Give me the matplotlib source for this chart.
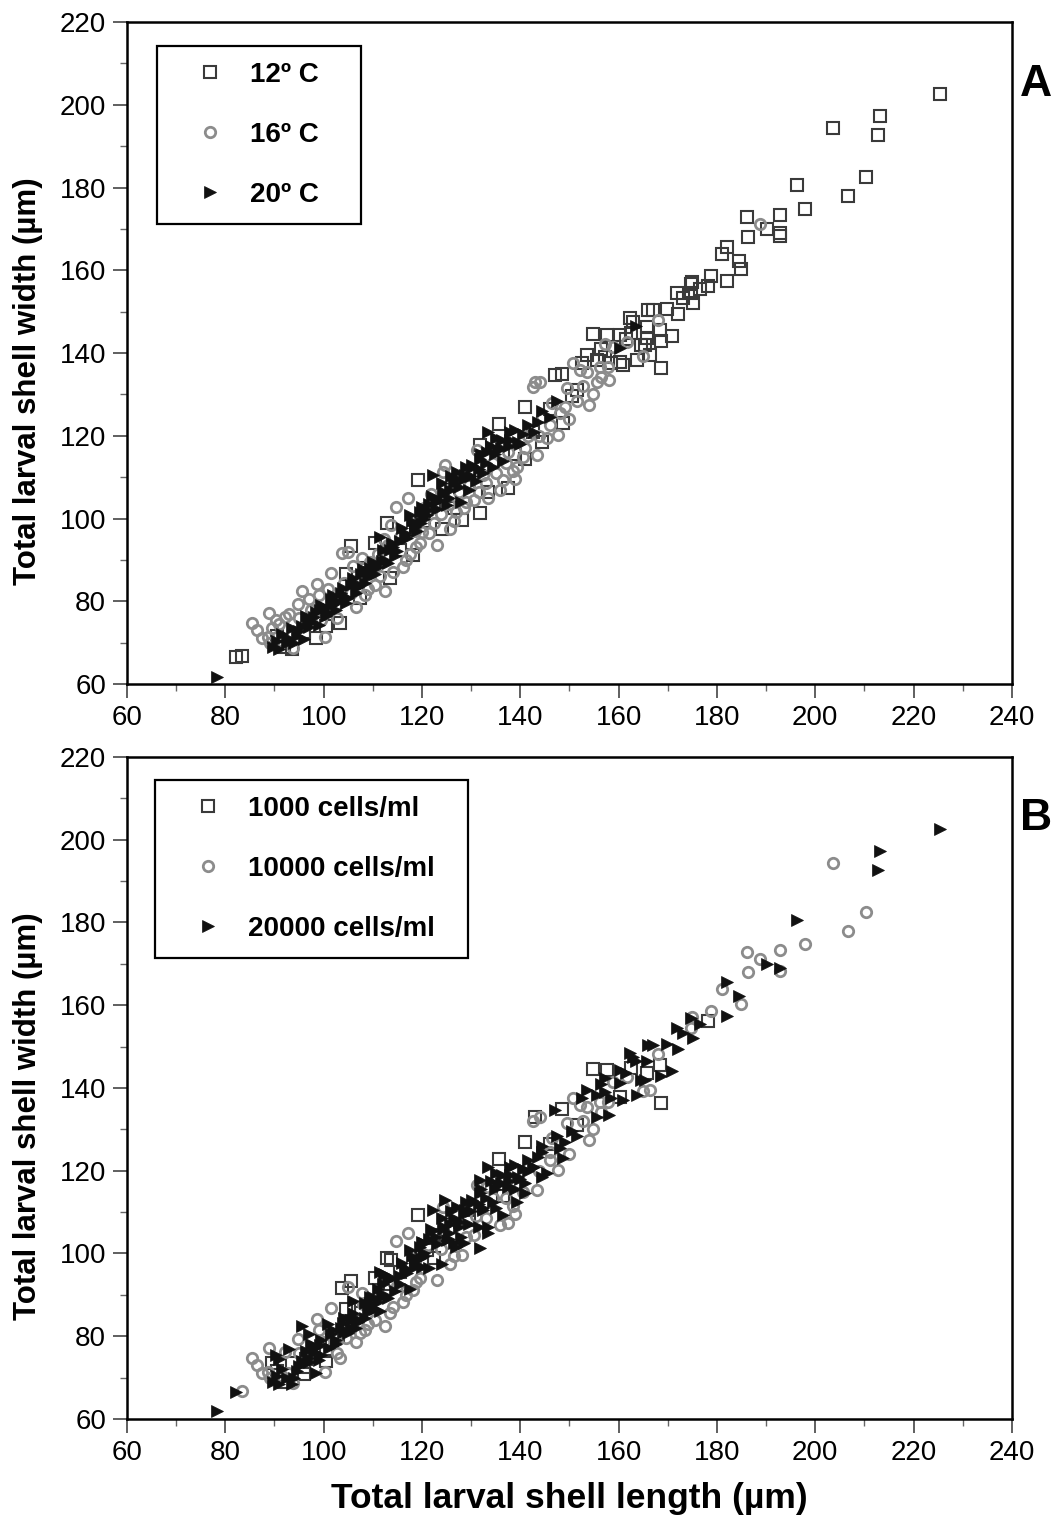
import matplotlib
matplotlib.use("Agg")
import matplotlib.pyplot as plt
from matplotlib.lines import Line2D
from matplotlib.ticker import MultipleLocator

plt.rcParams["font.family"] = ["Liberation Sans", "DejaVu Sans"]

# ---- data: shell length / width per temperature; food code 1/2/3 = 1000/10000/20000 cells/ml
L_12 = [82.1, 83.3, 90.5, 92.0, 93.5, 96.0, 98.5, 100.5, 103.3, 104.5, 105.5, 107.4, 108.5, 110.4,
        112.8, 113.5, 115.5, 118.2, 119.2, 120.5, 122.5, 124.0, 126.5, 128.1, 129.5, 131.8, 131.8,
        133.5, 135.7, 137.5, 139.0, 140.9, 140.9, 142.5, 144.5, 146.0, 147.0, 148.4, 148.7, 150.5,
        151.5, 152.5, 153.5, 154.7, 155.5, 156.5, 157.2, 157.6, 158.5, 160.3, 160.3, 160.9, 161.5,
        162.3, 162.6, 163.0, 163.7, 164.5, 165.4, 165.7, 165.7, 166.0, 166.4, 167.0, 168.4, 168.7,
        168.7, 169.8, 170.8, 171.8, 172.1, 173.1, 174.8, 174.8, 175.2, 176.5, 175.0, 178.2, 178.7,
        182.0, 184.9, 184.4, 181.0, 182.0, 186.3, 186.1, 190.1, 192.8, 192.8, 192.8, 198.0, 196.2,
        206.6, 210.3, 203.5, 212.8, 213.1, 225.3]
W_12 = [66.6, 66.8, 71.5, 69.0, 68.5, 72.5, 71.0, 74.0, 74.7, 86.5, 93.4, 80.7, 88.0, 94.0,
        99.0, 85.5, 92.5, 91.2, 109.3, 99.5, 104.0, 97.5, 102.5, 99.6, 110.5, 117.8, 101.3,
        106.5, 122.8, 107.3, 115.5, 114.5, 127.0, 121.0, 118.5, 126.5, 134.7, 134.9, 123.0, 129.5,
        131.0, 137.5, 139.5, 144.6, 138.3, 141.0, 139.1, 144.4, 137.5, 144.4, 137.9, 137.1, 143.5,
        148.4, 144.8, 147.6, 138.3, 142.0, 141.9, 143.6, 146.4, 150.4, 139.5, 150.4, 145.6, 142.8,
        136.3, 150.6, 144.0, 154.4, 149.4, 153.2, 156.8, 154.4, 152.0, 155.4, 157.2, 156.1, 158.7,
        157.4, 160.2, 162.2, 163.9, 165.7, 168.0, 172.9, 170.0, 169.1, 168.3, 173.4, 174.8, 180.6,
        178.0, 182.6, 194.3, 192.7, 197.2, 202.5]
F_12 = [3, 2, 1, 1, 3, 1, 3, 1, 2, 1, 1, 2, 3, 1,
        1, 2, 3, 2, 1, 3, 1, 3, 3, 2, 1, 3, 3,
        3, 1, 2, 3, 3, 1, 3, 3, 1, 3, 1, 3, 3,
        1, 3, 3, 1, 3, 3, 3, 1, 3, 3, 1, 3, 3,
        3, 1, 3, 3, 3, 3, 1, 3, 3, 2, 3, 1, 3,
        1, 3, 3, 3, 3, 3, 3, 2, 3, 3, 2, 1, 2,
        3, 2, 3, 2, 3, 2, 2, 3, 3, 2, 2, 2, 3,
        2, 2, 2, 3, 3, 3]

L_16 = [85.4, 87.4, 88.7, 88.9, 89.5, 90.4, 91.5, 92.1, 93.8, 94.8, 95.5, 96.5, 97.5, 98.6,
        99.5, 100.3, 101.6, 102.5, 103.7, 105.0, 105.5, 106.5, 107.5, 108.5, 109.5, 110.5, 111.5,
        112.5, 113.0, 114.2, 114.8, 115.5, 116.2, 117.2, 117.5, 118.5, 119.5, 120.5, 121.5, 122.5,
        123.0, 124.3, 124.7, 125.5, 126.5, 127.5, 128.5, 129.5, 130.5, 131.1, 132.5, 133.5, 134.5,
        135.9, 136.5, 137.5, 138.5, 139.3, 140.6, 141.5, 142.6, 143.0, 143.3, 144.0, 144.5, 145.5,
        146.5, 147.7, 148.0, 149.0, 150.0, 150.8, 151.5, 152.1, 153.5, 154.8, 155.5, 156.2, 156.5,
        157.2, 157.9, 158.9, 161.6, 165.0, 168.1, 188.7,
        86.5, 89.0, 91.0, 93.0, 95.0, 97.0, 99.0, 100.8, 102.8, 104.2, 106.0, 107.8, 109.0, 111.0,
        112.2, 113.8, 116.8, 118.8, 120.0, 121.8, 123.8, 125.8, 127.0, 129.0, 131.5, 133.0, 135.0,
        137.0, 139.0, 141.0, 143.8, 146.0, 149.5, 152.8, 154.0, 158.0]
W_16 = [74.8, 71.0, 71.4, 77.1, 73.5, 75.5, 70.5, 76.1, 68.6, 79.3, 82.5, 74.5, 78.0, 84.2,
        75.5, 71.4, 86.8, 79.0, 91.6, 92.0, 82.0, 78.5, 85.5, 81.5, 89.5, 84.0, 86.0,
        82.5, 93.5, 87.1, 102.9, 95.5, 88.3, 105.0, 91.5, 97.0, 94.0, 102.5, 96.5, 99.0,
        93.6, 111.3, 112.9, 103.5, 99.5, 106.5, 102.5, 108.0, 104.5, 116.6, 110.5, 105.0, 113.5,
        106.9, 109.3, 116.0, 111.5, 112.5, 114.9, 120.0, 131.9, 133.1, 115.3, 133.1, 124.5, 119.5,
        128.0, 120.2, 125.5, 127.0, 124.0, 137.5, 128.5, 135.9, 135.5, 130.2, 133.0, 136.7, 134.3,
        142.3, 136.7, 141.4, 142.7, 139.3, 148.1, 171.1,
        73.0, 70.0, 74.5, 77.0, 76.0, 80.5, 81.5, 83.0, 76.0, 84.5, 88.5, 90.5, 83.0, 91.5,
        95.0, 98.5, 90.0, 93.0, 96.8, 106.0, 101.0, 97.5, 101.5, 104.0, 106.5, 108.5, 111.0,
        113.5, 109.5, 117.0, 120.0, 122.5, 131.5, 132.0, 127.5, 133.5]
F_16 = [2, 2, 2, 2, 1, 3, 2, 2, 2, 2, 3, 1, 3, 2,
        3, 2, 2, 3, 1, 2, 3, 2, 1, 2, 3, 2, 3,
        2, 3, 2, 2, 1, 2, 2, 3, 3, 2, 3, 3, 1,
        2, 2, 3, 3, 2, 3, 3, 1, 2, 2, 3, 3, 2,
        2, 3, 3, 2, 3, 2, 3, 2, 1, 2, 2, 3, 3,
        2, 2, 3, 3, 2, 2, 3, 2, 2, 2, 3, 2, 2,
        3, 2, 2, 2, 2, 2, 2,
        2, 2, 3, 3, 2, 3, 2, 3, 2, 3, 3, 2, 2, 3,
        3, 1, 2, 2, 3, 3, 2, 2, 3, 2, 3, 2, 3,
        2, 2, 3, 2, 2, 2, 2, 2, 3]

L_20 = [78.4, 89.8, 90.5, 91.5, 92.5, 93.5, 94.5, 95.5, 96.5, 97.5, 98.5, 99.5, 100.5, 101.5,
        102.5, 103.5, 104.5, 105.5, 106.5, 107.5, 108.5, 109.5, 110.5, 111.5, 112.5, 113.5, 114.5,
        115.5, 116.5, 117.6, 118.5, 119.5, 120.5, 121.5, 122.3, 123.5, 124.5, 125.5, 126.5, 127.1,
        128.0, 128.5, 129.5, 130.4, 131.0, 131.8, 132.5, 133.5, 134.5, 135.5, 136.5, 137.9, 139.5,
        143.7, 160.3, 163.5,
        91.0, 92.8, 94.0, 95.0, 96.0, 97.0, 98.0, 99.0, 100.0, 101.0, 102.0, 103.0, 104.0, 105.0,
        106.0, 107.0, 108.0, 109.0, 110.0, 111.0, 112.0, 113.0, 114.0, 115.0, 116.0, 117.0, 118.0,
        119.0, 120.0, 121.0, 122.0, 123.0, 124.0, 125.0, 126.0, 127.5, 129.0, 130.0, 132.0, 133.0,
        134.0, 135.0, 136.0, 138.0, 140.5,
        118.5, 119.8, 121.2, 122.8, 124.2, 125.8, 127.2, 128.8, 130.2, 131.6, 133.2, 134.8, 136.2,
        137.6, 139.0, 96.8, 99.2, 101.8, 104.2, 106.8, 109.2, 111.8, 114.2, 116.8, 140.0, 141.5,
        142.8, 144.5, 146.0, 147.5]
W_20 = [61.8, 69.0, 70.5, 72.0, 70.0, 73.5, 71.5, 74.0, 76.5, 75.0, 77.5, 79.0, 76.5, 80.5,
        78.0, 82.0, 79.5, 84.0, 82.0, 86.5, 84.5, 88.0, 86.5, 95.6, 90.0, 92.5, 91.0,
        94.5, 96.5, 100.8, 98.0, 101.5, 100.0, 103.5, 110.5, 104.5, 106.5, 105.0, 108.5, 111.3,
        104.0, 109.5, 107.0, 112.5, 109.0, 114.5, 111.0, 121.0, 112.5, 116.5, 114.0, 119.0, 118.5,
        123.4, 141.1, 146.5,
        68.5, 71.2, 69.8, 72.8, 70.8, 73.8, 76.2, 74.2, 78.5, 77.2, 81.5, 79.8, 83.2, 80.8,
        85.5, 83.5, 87.8, 85.8, 89.5, 88.2, 92.5, 89.2, 94.0, 92.2, 97.8, 95.2, 99.5,
        97.0, 102.8, 100.8, 105.5, 102.2, 108.5, 103.2, 110.2, 107.5, 112.5, 110.2, 115.5, 113.5,
        117.5, 119.5, 117.0, 121.0, 120.5,
        98.5, 99.0, 102.0, 104.0, 106.0, 107.0, 109.5, 110.5, 113.0, 112.0, 116.0, 115.5, 119.0,
        117.5, 121.5, 74.8, 77.8, 79.0, 81.0, 84.2, 87.0, 89.8, 93.2, 96.0, 118.0, 122.5,
        121.0, 126.0, 124.5, 128.5]
F_20 = [3, 3, 3, 3, 3, 1, 3, 3, 3, 2, 3, 3, 1, 3,
        3, 3, 2, 3, 3, 1, 3, 3, 3, 3, 3, 1, 3,
        3, 3, 3, 2, 3, 3, 3, 3, 1, 3, 3, 3, 3,
        3, 3, 3, 3, 2, 3, 3, 3, 3, 3, 1, 3, 3,
        3, 3, 3,
        3, 2, 3, 3, 1, 3, 3, 3, 2, 3, 3, 1, 3, 3,
        3, 3, 2, 3, 3, 3, 3, 3, 3, 2, 3, 3, 3,
        3, 3, 1, 3, 3, 3, 3, 3, 3, 3, 3, 3, 3,
        3, 3, 3, 3, 3,
        3, 3, 2, 3, 3, 3, 1, 3, 3, 3, 2, 3, 3,
        3, 3, 3, 3, 1, 3, 3, 3, 3, 2, 3, 3, 3,
        3, 3, 2, 3]

TEMP_LABELS = ["12º C", "16º C", "20º C"]
FOOD_LABELS = ["1000 cells/ml", "10000 cells/ml", "20000 cells/ml"]

STYLES = [
    dict(marker="s", mfc="none", mec="#3a3a3a", ms=8, mew=1.5),
    dict(marker="o", mfc="none", mec="#8c8c8c", ms=7.5, mew=2.0),
    dict(marker=">", mfc="#111111", mec="#111111", ms=8.5, mew=0.5),
]


def style_axes(ax):
    ax.set_xlim(60, 240)
    ax.set_ylim(60, 220)
    ax.xaxis.set_major_locator(MultipleLocator(20))
    ax.xaxis.set_minor_locator(MultipleLocator(10))
    ax.yaxis.set_major_locator(MultipleLocator(20))
    ax.yaxis.set_minor_locator(MultipleLocator(10))
    ax.tick_params(which="major", direction="out", length=10, width=1.2,
                   color="#444444", labelsize=20, pad=5)
    ax.tick_params(which="minor", direction="out", length=5, width=1.0, color="#666666")
    for sp in ax.spines.values():
        sp.set_linewidth(1.8)
        sp.set_color("black")
    ax.set_ylabel("Total larval shell width (µm)", fontsize=22.5, fontweight="bold")
    ax.yaxis.set_label_coords(-0.095, 0.458)


def add_legend(ax, labels, box):
    handles = [Line2D([], [], linestyle="none", **STYLES[k]) for k in range(3)]
    leg = ax.legend(handles, labels, loc="upper left", bbox_to_anchor=box, mode="expand",
                    borderaxespad=0, frameon=True, fancybox=False, framealpha=1,
                    edgecolor="black", prop=dict(size=20, weight="bold"),
                    handlelength=2.66, handletextpad=0.1, borderpad=0.58, labelspacing=1.22)
    leg.get_frame().set_linewidth(1.6)


fig = plt.figure(figsize=(10.58, 15.21), dpi=100)
axA = fig.add_axes([0.120, 0.5503, 0.8365, 0.4352])
axB = fig.add_axes([0.120, 0.0671, 0.8365, 0.4352])

# panel A: grouped by temperature
for k, (L, W) in enumerate([(L_12, W_12), (L_16, W_16), (L_20, W_20)]):
    axA.plot(L, W, linestyle="none", **STYLES[k])

# panel B: same larvae grouped by food concentration
all_L = L_12 + L_16 + L_20
all_W = W_12 + W_16 + W_20
all_F = F_12 + F_16 + F_20
for k in range(3):
    Lk = [l for l, f in zip(all_L, all_F) if f == k + 1]
    Wk = [w for w, f in zip(all_W, all_F) if f == k + 1]
    axB.plot(Lk, Wk, linestyle="none", **STYLES[k])

for ax in (axA, axB):
    style_axes(ax)

add_legend(axA, TEMP_LABELS, (0.034, 0.0, 0.2305, 0.9637))
add_legend(axB, FOOD_LABELS, (0.0316, 0.0, 0.3537, 0.9653))

axB.set_xlabel("Total larval shell length (µm)", fontsize=25.5, fontweight="bold", labelpad=12)

fig.text(0.979, 1 - 85 / 1521, "A", fontsize=32, fontweight="bold", ha="center", va="center")
fig.text(0.979, 1 - 818 / 1521, "B", fontsize=32, fontweight="bold", ha="center", va="center")

fig.savefig("out.png", dpi=100)
